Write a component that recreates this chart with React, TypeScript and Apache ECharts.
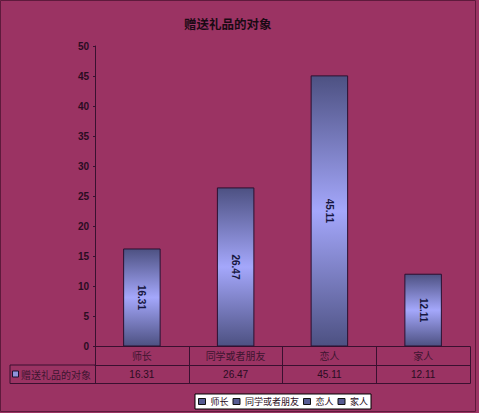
import React, { useEffect, useRef } from 'react';
import * as echarts from 'echarts';

// 赠送礼品的对象 (%)
const categories = ['师长', '同学或者朋友', '恋人', '家人'];
const values = [16.31, 26.47, 45.11, 12.11];
const seriesName = '赠送礼品的对象';
const yTicks = { min: 0, max: 50, interval: 5 };

const BG = '#9b3363';
const LINE = '#3a1030';
const TEXT = '#2a0c22';
const CJK = '"Noto Sans CJK SC", sans-serif';

const barGradient = () =>
  new echarts.graphic.LinearGradient(0, 0, 0, 1, [
    { offset: 0, color: '#4d5182' },
    { offset: 0.5, color: '#a4a7fb' },
    { offset: 1, color: '#4d5182' },
  ]);

const GiftChart: React.FC = () => {
  const chartRef = useRef<HTMLDivElement>(null);

  useEffect(() => {
    if (!chartRef.current) return;
    const chart = echarts.init(chartRef.current, null, { renderer: 'svg' });

    const option: echarts.EChartsOption = {
      animation: false,
      backgroundColor: BG,
      title: {
        text: seriesName,
        left: 184,
        top: 17,
        padding: 0,
        textStyle: { color: '#1a0a14', fontSize: 12.5, fontWeight: 'bold', fontFamily: CJK },
      },
      legend: {
        data: categories,
        left: 195,
        bottom: 4,
        orient: 'horizontal',
        icon: 'rect',
        itemWidth: 7,
        itemHeight: 6,
        itemGap: 4,
        padding: [3, 3],
        backgroundColor: '#ffffff',
        borderColor: '#000000',
        borderWidth: 1,
        selectedMode: false,
        itemStyle: { color: '#565b92', borderColor: '#111', borderWidth: 1 },
        textStyle: { color: '#2a0c22', fontSize: 9, fontFamily: CJK },
      },
      grid: { left: 95, right: 9, top: 46, height: 300.5 },
      xAxis: [
        {
          type: 'category',
          data: categories,
          axisLine: { lineStyle: { color: LINE, width: 1 } },
          axisTick: { show: true, length: 37, interval: 0, lineStyle: { color: LINE } },
          axisLabel: { color: '#3d1530', fontSize: 10, fontFamily: CJK, margin: 4, interval: 0 },
        },
        {
          type: 'category',
          data: categories,
          position: 'bottom',
          offset: 18.5,
          axisLine: { lineStyle: { color: LINE, width: 1 } },
          axisTick: { show: false },
          axisLabel: {
            color: TEXT,
            fontSize: 10,
            fontFamily: 'Arial, "Liberation Sans", sans-serif',
            margin: 4,
            interval: 0,
            formatter: (_v: string, i: number) => values[i].toFixed(2),
          },
        },
        {
          type: 'category',
          data: categories,
          position: 'bottom',
          offset: 37,
          axisLine: { lineStyle: { color: LINE, width: 1 } },
          axisTick: { show: false },
          axisLabel: { show: false },
        },
      ],
      yAxis: {
        type: 'value',
        ...yTicks,
        axisLine: { show: true, lineStyle: { color: LINE, width: 1 } },
        axisTick: { show: true, length: 2, lineStyle: { color: LINE } },
        splitLine: { show: false },
        axisLabel: {
          color: TEXT,
          fontSize: 10,
          fontWeight: 'bold',
          fontFamily: 'Arial, "Liberation Sans", sans-serif',
          margin: 6,
        },
      },
      series: [
        {
          name: seriesName,
          type: 'bar',
          xAxisIndex: 0,
          data: values,
          barWidth: '40%',
          itemStyle: { color: barGradient(), borderColor: '#2a1030', borderWidth: 1 },
          label: {
            show: true,
            position: 'inside',
            rotate: -90,
            color: '#161640',
            fontSize: 10,
            fontWeight: 'bold',
            fontFamily: 'Arial, "Liberation Sans", sans-serif',
            formatter: (p: any) => p.value.toFixed(2),
          },
        },
        // legend entries, one per category
        ...categories.map((c) => ({
          name: c,
          type: 'line' as const,
          data: [],
          itemStyle: { color: '#565b92' },
        })),
      ],
      graphic: [
        {
          type: 'rect',
          shape: { x: 0.5, y: 0.5, width: 475, height: 411 },
          style: { fill: 'none', stroke: '#5e1a3c', lineWidth: 1 },
          silent: true,
        },
        {
          type: 'line',
          shape: { x1: 10, y1: 365, x2: 95, y2: 365 },
          style: { stroke: LINE, lineWidth: 1 },
        },
        {
          type: 'line',
          shape: { x1: 10, y1: 383.5, x2: 95, y2: 383.5 },
          style: { stroke: LINE, lineWidth: 1 },
        },
        {
          type: 'line',
          shape: { x1: 10, y1: 365, x2: 10, y2: 383.5 },
          style: { stroke: LINE, lineWidth: 1 },
        },
        {
          type: 'rect',
          shape: { x: 12.5, y: 371, width: 6, height: 6 },
          style: { fill: '#8f93dc', stroke: '#1a1030', lineWidth: 1 },
        },
        {
          type: 'text',
          x: 21,
          y: 374.5,
          style: {
            text: seriesName,
            fill: '#3d1530',
            fontSize: 10,
            fontFamily: CJK,
            verticalAlign: 'middle',
          },
        },
      ],
    };

    chart.setOption(option);

    const handleResize = () => chart.resize();
    window.addEventListener('resize', handleResize);
    return () => {
      window.removeEventListener('resize', handleResize);
      chart.dispose();
    };
  }, []);

  return (
    <div
      ref={chartRef}
      style={{ position: 'absolute', left: 0, top: 0, width: 479, height: 413 }}
    />
  );
};

export default function App() {
  return <GiftChart />;
}
